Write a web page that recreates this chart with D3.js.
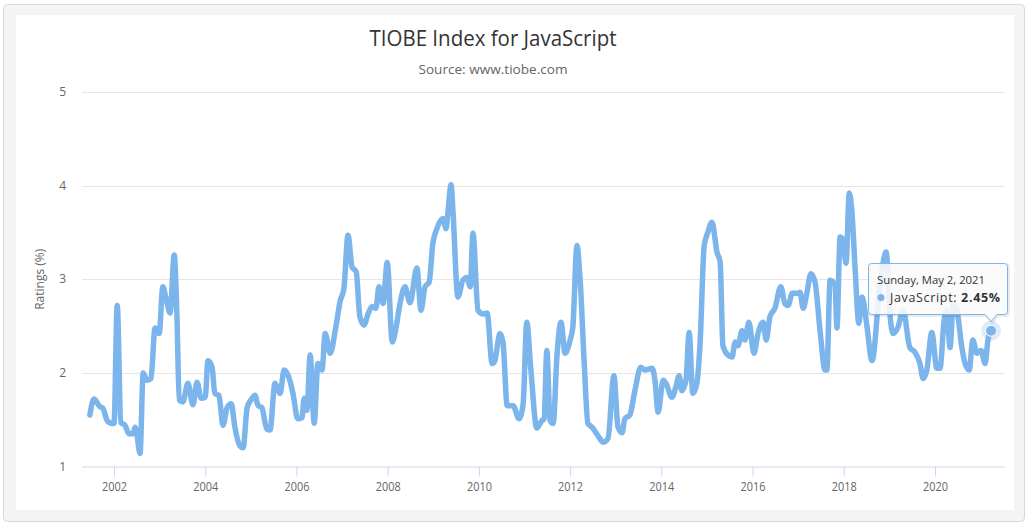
<!DOCTYPE html>
<html><head><meta charset="utf-8">
<script src="https://cdn.jsdelivr.net/npm/d3@7"></script>
<style>body{margin:0;background:#fff;font-family:"Open Sans",sans-serif}</style>
</head><body><svg id="c" width="1030" height="529"></svg>
<script>
const chartTitle = "TIOBE Index for JavaScript";
const chartSubtitle = "Source: www.tiobe.com";
const yTitle = "Ratings (%)";
const seriesName = "JavaScript";
const yTicks = [1, 2, 3, 4, 5];
const xTicks = [2002, 2004, 2006, 2008, 2010, 2012, 2014, 2016, 2018, 2020];
const tooltipDate = "Sunday, May 2, 2021";
// decimal years and ratings
const years = [2001.47,2001.56,2001.69,2001.76,2001.85,2001.96,2002.00,2002.07,2002.15,2002.24,2002.33,2002.42,2002.46,2002.50,2002.57,2002.64,2002.72,2002.81,2002.90,2002.99,
2003.07,2003.14,2003.23,2003.32,2003.38,2003.43,2003.51,2003.62,2003.73,2003.82,2003.91,2004.00,2004.06,2004.15,2004.21,2004.30,2004.39,2004.48,2004.57,2004.65,
2004.76,2004.83,2004.92,2005.03,2005.09,2005.16,2005.24,2005.35,2005.42,2005.53,2005.64,2005.73,2005.82,2005.92,2006.03,2006.12,2006.17,2006.23,2006.30,2006.39,
2006.47,2006.56,2006.63,2006.74,2006.85,2006.96,2007.04,2007.13,2007.22,2007.31,2007.39,2007.48,2007.57,2007.66,2007.74,2007.81,2007.90,2007.99,2008.10,2008.16,
2008.27,2008.38,2008.49,2008.64,2008.73,2008.82,2008.91,2008.99,2009.08,2009.21,2009.28,2009.32,2009.39,2009.43,2009.54,2009.65,2009.74,2009.81,2009.87,2009.98,
2010.09,2010.18,2010.29,2010.35,2010.46,2010.53,2010.62,2010.75,2010.88,2010.97,2011.05,2011.14,2011.27,2011.38,2011.43,2011.49,2011.56,2011.63,2011.71,2011.80,
2011.89,2012.00,2012.06,2012.15,2012.22,2012.31,2012.39,2012.48,2012.61,2012.72,2012.83,2012.96,2013.05,2013.14,2013.20,2013.31,2013.42,2013.55,2013.64,2013.80,
2013.86,2013.93,2014.04,2014.12,2014.23,2014.32,2014.39,2014.45,2014.54,2014.61,2014.69,2014.78,2014.85,2014.94,2015.02,2015.11,2015.22,2015.29,2015.35,2015.46,
2015.55,2015.62,2015.68,2015.77,2015.83,2015.92,2016.03,2016.12,2016.23,2016.30,2016.38,2016.49,2016.62,2016.71,2016.78,2016.87,2016.98,2017.04,2017.11,2017.19,
2017.28,2017.37,2017.48,2017.59,2017.63,2017.70,2017.81,2017.85,2017.92,2017.98,2018.05,2018.12,2018.18,2018.25,2018.33,2018.40,2018.44,2018.51,2018.62,2018.79,
2018.93,2019.01,2019.08,2019.19,2019.30,2019.45,2019.56,2019.67,2019.74,2019.82,2019.93,2020.04,2020.11,2020.20,2020.26,2020.33,2020.40,2020.48,2020.59,2020.66,
2020.75,2020.83,2020.92,2021.01,2021.10,2021.16,2021.23];
const ratings = [1.55,1.72,1.64,1.62,1.49,1.46,1.46,2.72,1.47,1.44,1.35,1.35,1.42,1.35,1.14,2.00,1.92,1.94,2.48,2.42,
2.92,2.80,2.64,3.26,2.60,1.71,1.69,1.89,1.66,1.90,1.73,1.74,2.13,2.06,1.78,1.76,1.44,1.63,1.67,1.42,
1.22,1.20,1.63,1.73,1.76,1.65,1.63,1.40,1.39,1.89,1.78,2.03,1.97,1.79,1.51,1.52,1.73,1.60,2.19,1.46,
2.10,2.03,2.42,2.21,2.45,2.77,2.90,3.47,3.13,3.08,2.60,2.51,2.63,2.71,2.69,2.92,2.74,3.18,2.33,2.42,
2.74,2.92,2.75,3.12,2.67,2.92,2.97,3.38,3.54,3.65,3.54,3.71,4.01,3.74,2.81,2.99,3.02,2.92,3.49,2.67,
2.63,2.64,2.10,2.13,2.42,2.32,1.65,1.65,1.51,1.67,2.54,2.03,1.41,1.49,1.51,2.24,1.49,1.46,2.17,2.54,
2.21,2.35,2.49,3.36,2.99,2.10,1.46,1.42,1.33,1.26,1.30,1.97,1.42,1.36,1.51,1.55,1.81,2.06,2.03,2.05,
1.92,1.58,1.92,1.87,1.74,1.85,1.97,1.81,1.92,2.43,1.78,1.89,2.32,3.36,3.50,3.61,3.29,3.18,2.29,2.19,
2.17,2.33,2.29,2.45,2.35,2.54,2.21,2.42,2.54,2.35,2.60,2.69,2.92,2.74,2.72,2.85,2.85,2.86,2.69,2.85,
3.06,2.97,2.45,2.03,2.03,2.99,2.94,2.48,3.45,3.42,3.17,3.92,3.71,3.10,2.53,2.81,2.74,2.49,2.13,2.92,
3.29,2.64,2.42,2.49,2.67,2.27,2.22,2.10,1.94,2.03,2.43,2.05,2.05,2.56,2.67,2.27,2.74,2.67,2.27,2.10,
2.03,2.35,2.21,2.24,2.10,2.35,2.45];

const color = "#7cb5ec";
const svg = d3.select("#c");
// frame
svg.append("rect").attr("x",3.5).attr("y",4.5).attr("width",1021).attr("height",517).attr("rx",4)
  .attr("fill","#f4f4f4").attr("stroke","#d8d8d8");
svg.append("rect").attr("x",16).attr("y",15).attr("width",998).attr("height",495).attr("fill","#fff");

const L = 82, R = 1005, T = 92, B = 466.5;
const x = d3.scaleLinear().domain([2001.298, 2021.535]).range([L, R]);
const y = d3.scaleLinear().domain([1, 5]).range([B, T]);

// titles
svg.append("text").attr("x",493).attr("y",46).attr("text-anchor","middle")
  .attr("font-size",21).attr("fill","#333").attr("textLength",247).attr("lengthAdjust","spacingAndGlyphs").text(chartTitle);
svg.append("text").attr("x",493).attr("y",74).attr("text-anchor","middle")
  .attr("font-size",13).attr("fill","#666").attr("textLength",149).attr("lengthAdjust","spacingAndGlyphs").text(chartSubtitle);

// grid
svg.append("g").selectAll("line").data(yTicks.filter(d=>d>1)).join("line")
  .attr("x1",L).attr("x2",R).attr("y1",d=>Math.round(y(d))+0.5).attr("y2",d=>Math.round(y(d))+0.5)
  .attr("stroke","#e6e6e6");
// y labels
svg.append("g").selectAll("text").data(yTicks).join("text")
  .attr("x",66).attr("y",d=>y(d)+4).attr("text-anchor","end").attr("font-size",12).attr("fill","#666").text(d=>d);
svg.append("text").attr("transform",`translate(44,${(T+B)/2}) rotate(-90)`).attr("text-anchor","middle")
  .attr("font-size",12).attr("fill","#666").text(yTitle);

// x axis
const xa = svg.append("g").attr("transform",`translate(0,${B})`)
  .call(d3.axisBottom(x).tickValues(xTicks).tickFormat(d3.format("d")).tickSize(10).tickPadding(6));
xa.select(".domain").attr("stroke","#ccd6eb").attr("d",`M${L},0.5H${R}`);
xa.selectAll(".tick line").attr("stroke","#ccd6eb");
xa.selectAll(".tick text").attr("fill","#666").attr("font-size",12).attr("font-family","Open Sans")
  .attr("textLength",25).attr("lengthAdjust","spacingAndGlyphs");

// line
const data = years.map((yr,i)=>({yr, v: ratings[i]}));
svg.append("path").datum(data)
  .attr("d", d3.line().x(d=>x(d.yr)).y(d=>y(d.v)).curve(d3.curveMonotoneX))
  .attr("fill","none").attr("stroke",color).attr("stroke-width",5.5)
  .attr("stroke-linejoin","round").attr("stroke-linecap","round");

// hovered point
const last = data[data.length-1];
const px = x(last.yr), py = y(last.v);
svg.append("circle").attr("cx",px).attr("cy",py).attr("r",10).attr("fill",color).attr("opacity",0.25);
svg.append("circle").attr("cx",px).attr("cy",py).attr("r",5.5).attr("fill",color).attr("stroke","#fff").attr("stroke-width",1);

// tooltip
const tx = 868.5, ty = 263.5, tw = 139, th = 51;
const tip = svg.append("g");
const tipPath = `M${tx+3},${ty} H${tx+tw-3} Q${tx+tw},${ty} ${tx+tw},${ty+3} V${ty+th-3} Q${tx+tw},${ty+th} ${tx+tw-3},${ty+th} H${px+6} L${px},${ty+th+7} L${px-6},${ty+th} H${tx+3} Q${tx},${ty+th} ${tx},${ty+th-3} V${ty+3} Q${tx},${ty} ${tx+3},${ty} Z`;
tip.append("path").attr("d",tipPath).attr("transform","translate(1,1)").attr("fill","none").attr("stroke","#000").attr("stroke-opacity",0.08).attr("stroke-width",3);
tip.append("path").attr("d",tipPath).attr("fill","rgba(250,250,250,0.88)").attr("stroke",color).attr("stroke-width",1);
tip.append("text").attr("x",877).attr("y",284).attr("font-size",11).attr("fill","#333")
  .attr("textLength",108).attr("lengthAdjust","spacingAndGlyphs").text(tooltipDate);
tip.append("circle").attr("cx",881).attr("cy",297.5).attr("r",3.5).attr("fill",color);
const t2 = tip.append("text").attr("x",890).attr("y",302).attr("font-size",12.5).attr("fill","#333")
  .attr("textLength",110).attr("lengthAdjust","spacing");
t2.append("tspan").text(seriesName + ": ");
t2.append("tspan").attr("font-weight","bold").text(last.v.toFixed(2) + "%");
</script></body></html>
